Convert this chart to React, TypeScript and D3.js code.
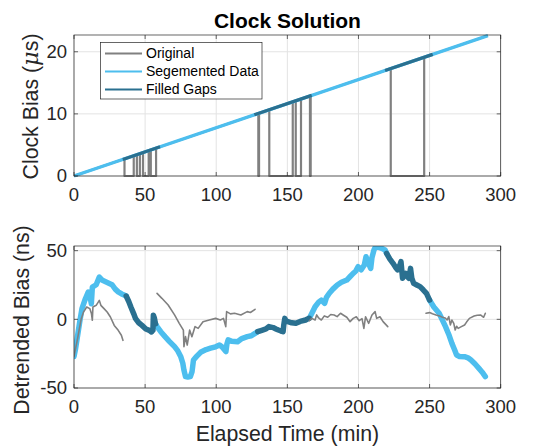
import React from "react";
import * as d3 from "d3";

// ---------- DATA ----------
const xTicks = [0, 50, 100, 150, 200, 250, 300];
const topYTicks = [0, 10, 20];
const botYTicks = [-50, 0, 50];
const legendLabels = ["Original", "Segemented Data", "Filled Gaps"];

// Top panel: clock bias (µs)
const segTopT = [0, 291];
const segTopV = [0, 22.6];
const filledTopT = [[34.3, 60.5], [126.8, 167.1], [218.7, 252.2]];
const filledTopV = [[2.66, 4.7], [9.85, 12.98], [16.98, 19.58]];
const origTopT = [0, 35.5, 35.5, 42, 42, 44.2, 44.2, 46.3, 46.3, 48.5, 48.5, 52.5, 52.5, 54, 54, 57.7, 57.7,
  129.6, 129.6, 130.1, 130.1, 137.3, 137.3, 153.8, 153.8, 155.9, 155.9, 159.6, 159.6, 165.9, 165.9, 166.4, 166.4,
  222.7, 222.7, 246.2, 246.2, 291];
const origTopV = [0, 2.76, 0, 0, 3.26, 3.43, 0, 0, 3.6, 3.77, 0, 0, 4.08, 4.19, 0, 0, 4.48,
  10.07, 0, 0, 10.11, 10.66, 0, 0, 11.95, 12.11, 0, 0, 12.4, 12.88, 0, 0, 12.92,
  17.29, 0, 0, 19.12, 22.6];

// Bottom panel: detrended bias (ns)
const segBotT = [
  [0, 1, 2.2, 4, 5.6, 8, 10, 11.1, 12.2, 12.9, 15.6, 17.8, 20, 23, 26.7, 29, 31.1, 33.5, 35.6, 36.7],
  [57.3, 58.4, 61, 64, 67, 70.7, 73, 75, 76.5, 77.3, 78.4, 80, 81.8, 83, 84, 86.2, 89, 92.9, 96, 99.6, 102.3, 104, 106.8, 107.5, 108.4, 111, 115, 118, 121.8, 124.7, 127.3, 129.2],
  [165.4, 167.5, 169.5, 172, 173.9, 176.2, 177.5, 179.5, 182, 185.1, 188, 191.8, 194, 196.3, 198, 199.7, 201.9, 204.1, 205.3, 206.5, 208.6, 209.5, 210.9, 212, 214, 216.4, 218.7, 219.8],
  [250, 253, 256.7, 259, 261.2, 263.5, 265.7, 267.5, 269, 271, 274.6, 277, 279.1, 282, 284.7, 287, 289.2],
];
const segBotV = [
  [-27, -22, -14, -2, 7.8, 15, 19.9, 17.5, 11.4, 23.5, 25.2, 30.8, 28.4, 27, 25.2, 22, 20, 18.5, 17.5, 17],
  [-3.2, -5.3, -9, -12.6, -16, -19.9, -23, -27, -32, -37, -41.7, -42, -41.7, -38, -29.6, -27, -24, -22, -21, -20, -18.7, -20, -23.5, -18, -15, -16, -16.3, -14, -12.6, -12, -10.2, -9],
  [0.7, 5, 9.2, 12.5, 14, 11.6, 16, 19, 22, 25, 27, 28.6, 31, 33.5, 35, 38.3, 36, 39.6, 45.6, 42, 37.1, 45, 50.5, 52.9, 52.5, 51.7, 50.5, 48],
  [14, 9, 4.4, -0.5, -5.3, -11, -17.5, -22, -26, -27, -27.2, -28, -29.6, -32.5, -35.7, -38.5, -41.7],
];
const filledBotT = [
  [36.7, 38.5, 40, 42, 43.3, 45.5, 47.8, 50.5, 53, 54.5, 55.5, 55.8, 56.5, 57.3],
  [129.2, 132, 135, 137, 140, 142, 143.7, 145.5, 147, 147.5, 148.2, 149, 150.4, 153, 156, 159, 162.8, 165, 165.4],
  [219.8, 222, 224.3, 226, 227.6, 229.3, 229.9, 231, 232, 233.2, 234.5, 235.5, 236.6, 237.5, 238.8, 241, 243.3, 245.5, 247.8, 250],
];
const filledBotV = [
  [17, 13, 9, 4, 0.5, -2.5, -4.4, -7, -8, -9.2, -8, 2.9, 1, -3.2],
  [-9, -8, -7, -5.3, -6, -7, -7.8, -8.5, -9, -4, 0.7, -1, -1.7, -2.5, -2.9, -1.5, -0.5, 0.7, 0.7],
  [48, 44, 40.8, 38, 36, 40, 42, 29.9, 32, 33.5, 31, 29.9, 37.1, 30, 26.2, 25, 23.8, 21.5, 18.9, 14],
];
const origBotT = [
  [0, 2.5, 5, 6.7, 8.9, 11.1, 12.3, 12.9, 13.3, 15.6, 17.8, 18.9, 21.1, 23.3, 25.6, 28.3, 31.1, 33.3, 34.4],
  [58.4, 61.8, 66.2, 70.7, 74, 76.9, 77.3, 78.4, 79.6, 81.3, 82.9, 85.1, 87.3, 90.7, 95.1, 99.6, 102.9, 105.1, 106.7, 107.3, 110, 112.9, 117.3, 121.8, 124, 127.3],
  [165.5, 167.2, 169.5, 170.6, 172, 173.9, 176, 178.4, 180.5, 182.9, 185, 187.4, 189.5, 191.8, 194.1, 196.3, 198.5, 200.5, 202.5, 203.8, 205, 207.2, 209.5, 211.7, 212.8, 215.1, 217.3, 220.6],
  [247.5, 250, 252, 254.5, 257, 259, 261, 262.3, 263.5, 264.6, 265.7, 267, 268, 269, 270.1, 272, 274.6, 276, 278, 281.3, 283.5, 285.8, 288, 289.2],
];
const origBotV = [
  [-27, -14, 0, 5.3, 9, 7.8, 4, -0.7, 9, 10.2, 13.8, 10.2, 7.8, 5.3, 1.7, -4.4, -8, -11.6, -15.3],
  [18.9, 15.3, 10.4, 3.2, -2.9, -7.8, -19.9, -12.6, -18.7, -7.8, -12.6, -5.3, -6.6, -1.7, -0.5, 0.7, -0.5, 0.7, -5.3, 5.6, 4, 4.4, 3.2, 5.6, 5, 7.3],
  [-1, 0.7, -0.5, 3.2, 1, -0.5, 2.5, 1.5, 3.5, 3.2, 2, 4.4, 3, 1.5, -1.7, 0.7, 1.9, -1, 0.5, -6.6, 1.9, -2.9, 3.2, 5.6, 0.7, 1.9, -1.7, -5.3],
  [4.4, 4.9, 4, 3.2, 2.5, 1.5, 1, -0.5, 2, -4.1, -0.5, -3, -7.8, -5, -6.6, -5.5, -4.1, -2, 0.7, 2.4, 3, 3.2, 1.5, 4.4],
];

// ---------- STYLE ----------
const C_ORIG = "#808080";
const C_SEG = "#4DBEEE";
const C_FILL = "#2A7090";
const AXC = "#262626";
const FONT = "'Liberation Sans', Arial, Helvetica, sans-serif";

const L = 74, R = 500.7;
const topP = { top: 35, bottom: 176 };
const botP = { top: 246, bottom: 388 };

const x = d3.scaleLinear().domain([0, 300]).range([L, R]);
const yTop = d3.scaleLinear().domain([0, 22.7]).range([topP.bottom, topP.top]);
const yBot = d3.scaleLinear().domain([-50, 53.4]).range([botP.bottom, botP.top]);

function pathOf(ts: number[], vs: number[], y: d3.ScaleLinear<number, number>) {
  const gen = d3.line<number>().x((_, i) => x(ts[i])).y((_, i) => y(vs[i]));
  return gen(ts) || "";
}

function Grid({ y, ticks, top, bottom }: any) {
  return (
    <g>
      {xTicks.map((t) => (
        <line key={"gx" + t} x1={x(t)} x2={x(t)} y1={top} y2={bottom} stroke="#e3e3e3" strokeWidth={1} />
      ))}
      {ticks.map((t: number) => (
        <line key={"gy" + t} x1={L} x2={R} y1={y(t)} y2={y(t)} stroke="#e3e3e3" strokeWidth={1} />
      ))}
    </g>
  );
}

function Frame({ y, ticks, top, bottom }: any) {
  const tl = 4;
  return (
    <g>
      <rect x={L} y={top} width={R - L} height={bottom - top} fill="none" stroke={AXC} strokeWidth={0.7} />
      {xTicks.map((t) => (
        <g key={"tx" + t}>
          <line x1={x(t)} x2={x(t)} y1={bottom} y2={bottom - tl} stroke={AXC} strokeWidth={0.7} />
          <line x1={x(t)} x2={x(t)} y1={top} y2={top + tl} stroke={AXC} strokeWidth={0.7} />
          <text x={x(t)} y={bottom + 25} textAnchor="middle" fontSize={18.5} fill={AXC} fontFamily={FONT}>{t}</text>
        </g>
      ))}
      {ticks.map((t: number) => (
        <g key={"ty" + t}>
          <line x1={L} x2={L + tl} y1={y(t)} y2={y(t)} stroke={AXC} strokeWidth={0.7} />
          <line x1={R} x2={R - tl} y1={y(t)} y2={y(t)} stroke={AXC} strokeWidth={0.7} />
          <text x={67} y={y(t)} dy="0.35em" textAnchor="end" fontSize={18.5} fill={AXC} fontFamily={FONT}>{t}</text>
        </g>
      ))}
    </g>
  );
}

export default function App() {
  return (
    <svg width={547} height={447} style={{ position: "absolute", left: 0, top: 0, background: "#fff" }}>
      <defs>
        <clipPath id="clipTop"><rect x={L} y={topP.top - 3} width={R - L} height={topP.bottom - topP.top + 6} /></clipPath>
        <clipPath id="clipBot"><rect x={L} y={botP.top} width={R - L} height={botP.bottom - botP.top} /></clipPath>
      </defs>
      <rect width={547} height={447} fill="#fff" />

      {/* Top panel */}
      <Grid y={yTop} ticks={topYTicks} top={topP.top} bottom={topP.bottom} />
      <g clipPath="url(#clipTop)" fill="none" strokeLinejoin="round">
        <path d={pathOf(origTopT, origTopV, yTop)} stroke={C_ORIG} strokeWidth={2.2} />
        <path d={pathOf(segTopT, segTopV, yTop)} stroke={C_SEG} strokeWidth={3.2} />
        {filledTopT.map((ts, i) => (
          <path key={i} d={pathOf(ts, filledTopV[i], yTop)} stroke={C_FILL} strokeWidth={3.2} />
        ))}
      </g>
      <Frame y={yTop} ticks={topYTicks} top={topP.top} bottom={topP.bottom} />
      <text x={287.4} y={28} textAnchor="middle" fontSize={21} fontWeight="bold" fill="#000" fontFamily={FONT}>Clock Solution</text>
      <text transform={`translate(38,${(topP.top + topP.bottom) / 2 + 1}) rotate(-90)`} textAnchor="middle" fontSize={21.3} fill={AXC} fontFamily={FONT}>
        Clock Bias (<tspan fontStyle="italic" fontSize={22.5} fontFamily="'DejaVu Serif', serif">μ</tspan>s)
      </text>

      {/* Legend */}
      <g>
        <rect x={100.5} y={42.5} width={161.5} height={56.5} fill="#fff" stroke={AXC} strokeWidth={0.7} />
        {legendLabels.map((lab, i) => {
          const yy = 53.5 + i * 18;
          const col = [C_ORIG, C_SEG, C_FILL][i];
          return (
            <g key={lab}>
              <line x1={105} x2={142} y1={yy} y2={yy} stroke={col} strokeWidth={2.2} />
              <text x={146} y={yy} dy="0.35em" fontSize={14} fill="#000" fontFamily={FONT}>{lab}</text>
            </g>
          );
        })}
      </g>

      {/* Bottom panel */}
      <Grid y={yBot} ticks={botYTicks} top={botP.top} bottom={botP.bottom} />
      <g clipPath="url(#clipBot)" fill="none" strokeLinejoin="round" strokeLinecap="round">
        {segBotT.map((ts, i) => (
          <path key={"s" + i} d={pathOf(ts, segBotV[i], yBot)} stroke={C_SEG} strokeWidth={5.5} />
        ))}
        {filledBotT.map((ts, i) => (
          <path key={"f" + i} d={pathOf(ts, filledBotV[i], yBot)} stroke={C_FILL} strokeWidth={5.5} />
        ))}
        {origBotT.map((ts, i) => (
          <path key={"o" + i} d={pathOf(ts, origBotV[i], yBot)} stroke={C_ORIG} strokeWidth={1.6} />
        ))}
      </g>
      <Frame y={yBot} ticks={botYTicks} top={botP.top} bottom={botP.bottom} />
      <text transform={`translate(28.5,${(botP.top + botP.bottom) / 2 + 3}) rotate(-90)`} textAnchor="middle" fontSize={21.3} fill={AXC} fontFamily={FONT}>
        Detrended Bias (ns)
      </text>
      <text x={287.4} y={441} textAnchor="middle" fontSize={21.3} fill={AXC} fontFamily={FONT}>Elapsed Time (min)</text>
    </svg>
  );
}
